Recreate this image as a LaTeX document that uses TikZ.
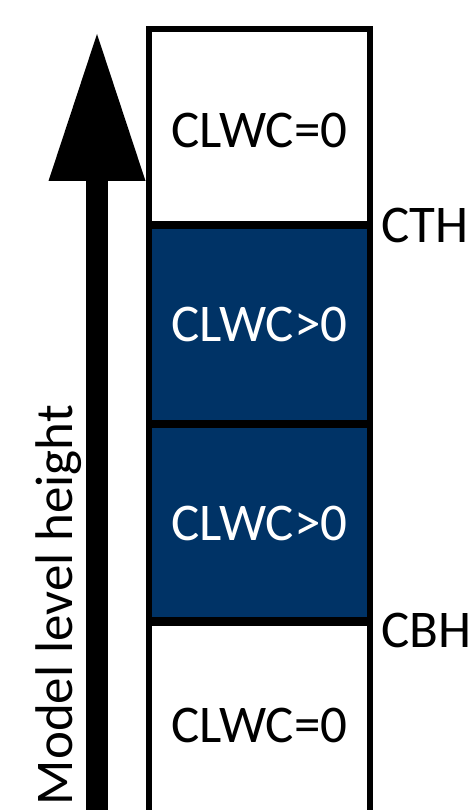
\documentclass[tikz,border=0pt]{standalone}
\usepackage{fontspec}
\setmainfont{Carlito}
\definecolor{cloudblue}{RGB}{0,51,102}
\tikzset{
  layer/.style={draw=black, line width=6pt, minimum width=221pt, inner sep=0pt, outer sep=0pt},
  clear/.style={layer, fill=white},
  cloudy/.style={layer, fill=cloudblue},
  lbl/.style={font=\fontsize{53}{53}\selectfont, inner sep=0pt, anchor=base},
  side/.style={font=\fontsize{53}{53}\selectfont, inner sep=0pt, anchor=base west},
}
\begin{document}
\begin{tikzpicture}[x=1pt, y=-1pt]
  \useasboundingbox (0,0) rectangle (471,810);
  % model level column (stroke centres)
  \node[clear,  minimum height=195pt] (b1) at (259.5,126.5) {};
  \node[cloudy, minimum height=197pt] (b2) at (259.5,324.5) {};
  \node[cloudy, minimum height=195pt] (b3) at (259.5,522.5) {};
  \node[clear,  minimum height=207pt] (b4) at (259.5,726.5) {};
  % layer labels
  \node[lbl] (t1) at (259.5,148) {CLWC=0};
  \node[lbl, text=white] (t2) at (259.5,341) {CLWC>0};
  \node[lbl, text=white] (t3) at (259.5,540) {CLWC>0};
  \node[lbl] (t4) at (259.5,742) {CLWC=0};
  % cloud top and base heights
  \node[side] (cth) at (381,242) {CTH};
  \node[side] (cbh) at (381,647) {CBH};
  % height axis arrow
  \coordinate (tip) at (97,34);
  \coordinate (hl) at (48.5,181);
  \coordinate (hr) at (145.5,181);
  \fill (hl) -- (tip) -- (hr) -- cycle;
  \fill (86,180) rectangle (108,820);
  \node[lbl, rotate=90] (axis) at (72,605) {Model level height};
\end{tikzpicture}
\end{document}
